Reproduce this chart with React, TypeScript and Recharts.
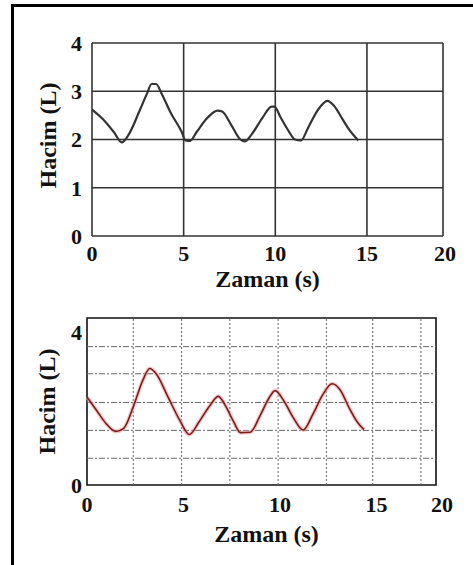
import React from "react";
import { CartesianGrid, Label, Line, LineChart, ReferenceArea, ReferenceLine, XAxis, YAxis } from "recharts";

// top chart: black trace, solid grid
const topTime = [0, 0.6, 1.2, 1.62, 2.0, 2.6, 3.0, 3.25, 3.5, 3.8, 4.3, 4.89, 5.1, 5.35, 5.7, 6.3, 6.85, 7.1, 7.6, 8.1, 8.35, 8.7, 9.3, 9.8, 9.95, 10.3, 10.77, 11.07, 11.4, 11.8, 12.3, 12.85, 13.2, 13.7, 14.0, 14.53];
const topVolume = [2.62, 2.42, 2.15, 1.94, 2.1, 2.6, 2.95, 3.15, 3.15, 2.95, 2.55, 2.16, 1.98, 1.97, 2.15, 2.45, 2.6, 2.58, 2.3, 2.0, 1.96, 2.1, 2.45, 2.68, 2.68, 2.45, 2.15, 2.0, 1.98, 2.25, 2.6, 2.8, 2.7, 2.4, 2.22, 1.98];
const topXMax = 19.15;
const topXTicks = [0, 5, 10, 15, topXMax];
const topYTicks = [0, 1, 2, 3, 4];

// bottom chart: red trace, dotted grid
const bottomTime = [0, 0.5, 1.0, 1.5, 1.9, 2.4, 2.9, 3.25, 3.6, 4.2, 4.8, 5.3, 5.8, 6.4, 6.8, 7.2, 7.6, 7.95, 8.45, 9.0, 9.4, 9.75, 10.2, 10.7, 11.2, 11.7, 12.2, 12.7, 13.1, 13.6, 14.0, 14.35];
const bottomVolume = [2.3, 1.95, 1.6, 1.4, 1.48, 2.05, 2.75, 3.05, 2.9, 2.3, 1.7, 1.32, 1.65, 2.1, 2.32, 2.05, 1.65, 1.37, 1.38, 1.85, 2.25, 2.47, 2.2, 1.75, 1.44, 1.85, 2.35, 2.65, 2.5, 2.0, 1.65, 1.45];
const bottomXMax = 18.08;
const bottomYMax = 4.37;
const bottomXTicks = [0, 5, 10, 15, bottomXMax];
const bottomYTicks = [0, 4];
const bottomGridX = [2.4, 4.9, 7.4, 9.9, 12.4, 14.8, 17.3];
const bottomGridY = [0.7, 1.43, 2.16, 2.91, 3.62];

const topData = topTime.map((t, i) => ({ t, v: topVolume[i] }));
const bottomData = bottomTime.map((t, i) => ({ t, v: bottomVolume[i] }));

const FONT = "'Liberation Serif', 'Times New Roman', serif";
const tickStyle = { fontFamily: FONT, fontWeight: 700, fontSize: 22, fill: "#111" };
const labelStyle = { fontFamily: FONT, fontWeight: 700, fontSize: 24, fill: "#111" };

const XTick = ({ x, y, payload, last, shift }: any) => (
  <text x={x + (payload.value === last ? shift : 0)} y={y} dy="0.71em" textAnchor="middle" style={tickStyle}>
    {payload.value === last ? "20" : payload.value}
  </text>
);

const TopChart = () => (
  <LineChart width={473} height={300} data={topData} margin={{ top: 43, right: 30, bottom: 0, left: 0 }}>
    <CartesianGrid stroke="#333" strokeWidth={1.6} />
    <XAxis
      dataKey="t"
      type="number"
      domain={[0, topXMax]}
      ticks={topXTicks}
      axisLine={false}
      tickLine={false}
      tickSize={0}
      tickMargin={9}
      height={64}
      tick={<XTick last={topXMax} shift={2} />}
    >
      <Label value="Zaman (s)" position="insideBottom" offset={13} style={labelStyle} />
    </XAxis>
    <YAxis
      type="number"
      domain={[0, 4]}
      ticks={topYTicks}
      axisLine={false}
      tickLine={false}
      tickSize={0}
      tickMargin={10}
      width={92}
      tick={tickStyle}
    >
      <Label value="Hacim (L)" angle={-90} position="center" dx={1} dy={-4} style={labelStyle} />
    </YAxis>
    <Line type="monotone" dataKey="v" stroke="#333" strokeWidth={2.2} dot={false} isAnimationActive={false} />
  </LineChart>
);

const BottomChart = () => (
  <LineChart width={473} height={275} data={bottomData} margin={{ top: 28, right: 37, bottom: 0, left: 0 }}>
    <XAxis
      dataKey="t"
      type="number"
      domain={[0, bottomXMax]}
      ticks={bottomXTicks}
      axisLine={false}
      tickLine={false}
      tickSize={0}
      tickMargin={11}
      height={80}
      tick={<XTick last={bottomXMax} shift={6} />}
    >
      <Label value="Zaman (s)" position="insideBottom" offset={23} dx={5} style={labelStyle} />
    </XAxis>
    <YAxis
      type="number"
      domain={[0, bottomYMax]}
      ticks={bottomYTicks}
      axisLine={false}
      tickLine={false}
      tickSize={0}
      tickMargin={5}
      width={87}
      tick={tickStyle}
    >
      <Label value="Hacim (L)" angle={-90} position="center" dx={3} style={labelStyle} />
    </YAxis>
    {bottomGridY.map((v) => (
      <ReferenceLine key={`h${v}`} y={v} stroke="#666" strokeWidth={1} strokeDasharray="6 2 2 2" />
    ))}
    {bottomGridX.map((v) => (
      <ReferenceLine key={`v${v}`} x={v} stroke="#666" strokeWidth={1} strokeDasharray="2 2" />
    ))}
    <ReferenceArea x1={0} x2={bottomXMax} y1={0} y2={bottomYMax} fill="none" stroke="#111" strokeWidth={1.6} />
    <Line type="monotone" dataKey="v" stroke="#f0a0a0" strokeWidth={4} strokeOpacity={0.6} dot={false} isAnimationActive={false} />
    <Line type="monotone" dataKey="v" stroke="#7a1c1c" strokeWidth={1.6} dot={false} isAnimationActive={false} />
  </LineChart>
);

export default function App() {
  return (
    <div style={{ position: "absolute", left: 0, top: 0, width: 473, height: 565, background: "#fff", overflow: "hidden" }}>
      <div
        style={{
          position: "absolute",
          left: 11,
          top: 4,
          width: 470,
          height: 570,
          borderLeft: "3px solid #000",
          borderTop: "3px solid #000",
          boxSizing: "border-box",
        }}
      />
      <div style={{ position: "absolute", left: 0, top: 0 }}>
        <TopChart />
      </div>
      <div style={{ position: "absolute", left: 0, top: 290 }}>
        <BottomChart />
      </div>
    </div>
  );
}
